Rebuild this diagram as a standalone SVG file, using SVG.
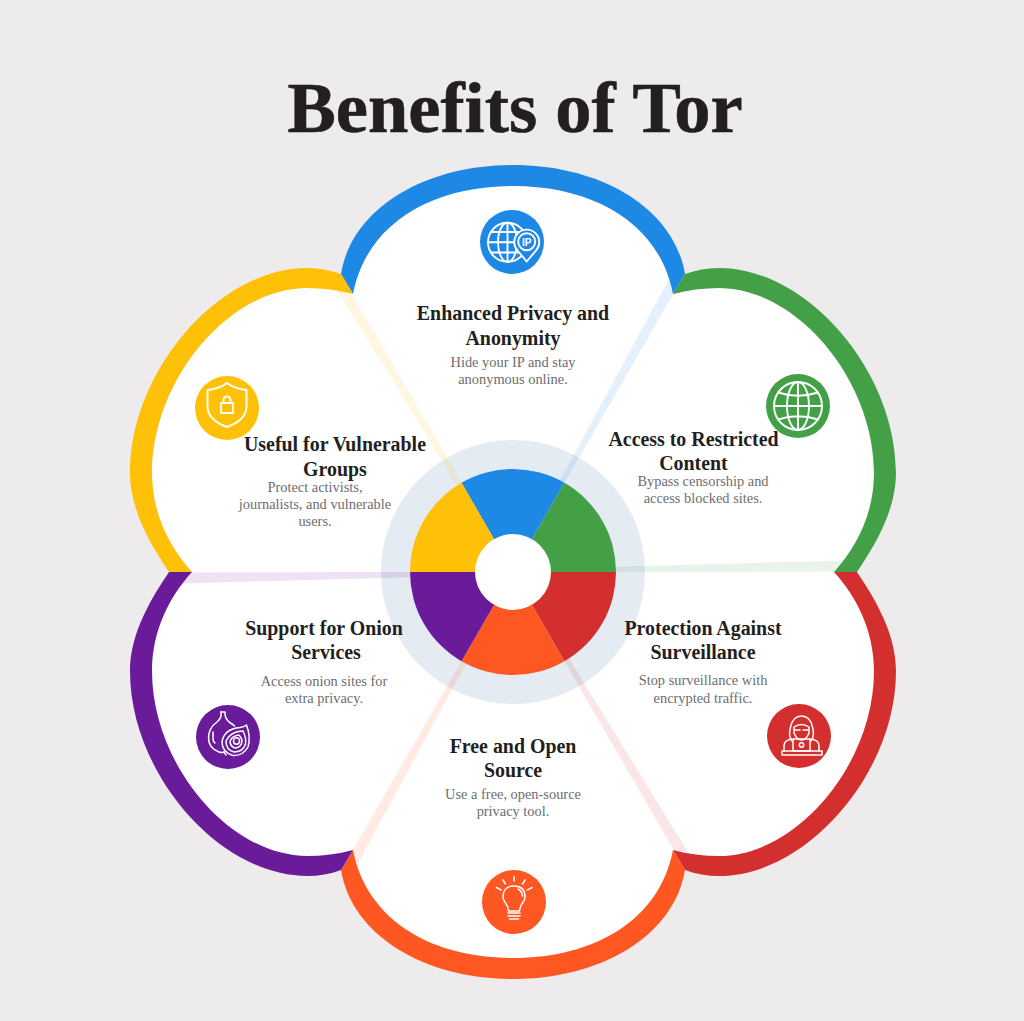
<svg xmlns="http://www.w3.org/2000/svg" xmlns:xlink="http://www.w3.org/1999/xlink" width="1024" height="1021" viewBox="0 0 1024 1021">
<style>
text{font-family:"Liberation Serif","DejaVu Serif",serif;text-anchor:middle}
.title{font-size:72.500px;font-weight:700;fill:#231f20;stroke:#231f20;stroke-width:.6}
.h{font-size:19.9px;font-weight:700;fill:#231f20}
.d{font-size:14.400px;fill:#6d6e71}
.ic{fill:none;stroke:#fff;stroke-width:1.900;stroke-linecap:round;stroke-linejoin:round}
.ic2{fill:none;stroke:#fff;stroke-width:1.500;stroke-linecap:round;stroke-linejoin:round}
.ray{fill-opacity:.12}
</style>
<defs>
<path id="white-top" d="M513 572L353 294C366 225 430 186 513 186C596 186 660 225 673 294Z"/>
<path id="crescent-top" d="M341 274C352 208 425 165 513 165C601 165 674 208 685 274L673 294C660 225 596 186 513 186C430 186 366 225 353 294Z"/>
<path id="white-side" d="M513 572L192 572C170 548 152 514 152 473C152 380 229 288 307 288C323 288 338 290 353 294Z"/>
<path id="crescent-side" d="M169 572C153 548 130 512 130 473C130 371 219 268 307 268C319 268 330 270 341 274L353 294C338 290 323 288 307 288C229 288 152 380 152 473C152 514 170 548 192 572Z"/>
<path id="ray" d="M673 294L669 279L559 482L565 482Z"/>
<path id="sector" d="M513 572L461.500 482.800A103 103 0 0 1 564.500 482.800Z"/>
</defs>
<rect width="1024" height="1021" fill="#edebec"/>
<text class="title" x="515" y="132">Benefits of Tor</text>
<g id="petal-backgrounds" fill="#fff">
<use xlink:href="#white-top"/>
<use xlink:href="#white-top" transform="matrix(1 0 0 -1 0 1144)"/>
<use xlink:href="#white-side"/>
<use xlink:href="#white-side" transform="matrix(-1 0 0 1 1026 0)"/>
<use xlink:href="#white-side" transform="matrix(1 0 0 -1 0 1144)"/>
<use xlink:href="#white-side" transform="matrix(-1 0 0 -1 1026 1144)"/>
</g>
<circle id="hub-ring" cx="513" cy="572" r="132" fill="#e5ebf2"/>
<g id="node-privacy" fill="#1e88e5">
<use xlink:href="#crescent-top"/><use xlink:href="#ray" class="ray"/><use xlink:href="#sector"/>
<circle cx="512" cy="242" r="32"/>
<g class="ic">
<circle cx="507.500" cy="242.300" r="19.500"/><ellipse cx="507.500" cy="242.300" rx="9.500" ry="19.500"/>
<path d="M507.500 222.800V261.800M488 242.300H527M491 232H524M491 252.500H524"/>
<path d="M526.700 261.500L517.500 250.500A12.500 12.500 0 1 1 536 250.500Z" fill="#1e88e5"/>
<circle cx="526.700" cy="241.700" r="8.500"/>
</g>
<text x="526.700" y="245.500" style="font-family:'Liberation Sans',sans-serif;font-size:10px;font-weight:700;fill:#fff">IP</text>
<text class="h" x="513" y="320">Enhanced Privacy and</text>
<text class="h" x="513" y="345">Anonymity</text>
<text class="d" x="513" y="367">Hide your IP and stay</text>
<text class="d" x="513" y="384">anonymous online.</text>
</g>
<g id="node-restricted" fill="#43a047">
<use xlink:href="#crescent-side" transform="matrix(-1 0 0 1 1026 0)"/>
<g transform="rotate(60 513 572)"><use xlink:href="#ray" class="ray"/><use xlink:href="#sector"/></g>
<circle cx="798" cy="406" r="32"/>
<g class="ic">
<circle cx="798" cy="406" r="24"/><ellipse cx="798" cy="406" rx="11" ry="24"/>
<path d="M798 382V430M774 406H822M778 392.500Q798 399 818 392.500M778 419.500Q798 413 818 419.500"/>
</g>
<text class="h" x="693.500" y="446">Access to Restricted</text>
<text class="h" x="693.500" y="470">Content</text>
<text class="d" x="703" y="486">Bypass censorship and</text>
<text class="d" x="703" y="503">access blocked sites.</text>
</g>
<g id="node-surveillance" fill="#d32f2f">
<use xlink:href="#crescent-side" transform="matrix(-1 0 0 -1 1026 1144)"/>
<g transform="rotate(120 513 572)"><use xlink:href="#ray" class="ray"/><use xlink:href="#sector"/></g>
<circle cx="799" cy="736" r="32"/>
<g class="ic2">
<path d="M792 741Q788 736 790.500 727Q793 716 801.500 716Q810 716 812.500 727Q815 736 811 741"/>
<path d="M794 727Q801.500 722 809 727V733Q806 740 801.500 740Q797 740 794 733Z"/>
<path d="M795 730H800M803 730H808"/>
<path d="M784 751V746Q784 740 792 739M819 751V746Q819 740 811 739"/>
<path d="M793 739H810V751H793Z"/>
<circle cx="801.500" cy="745" r="2.200"/>
<path d="M782 751H822V755H782Z"/>
</g>
<text class="h" x="703" y="635">Protection Against</text>
<text class="h" x="703" y="659">Surveillance</text>
<text class="d" x="703" y="685">Stop surveillance with</text>
<text class="d" x="703" y="703">encrypted traffic.</text>
</g>
<g id="node-open-source" fill="#ff5722">
<use xlink:href="#crescent-top" transform="matrix(1 0 0 -1 0 1144)"/>
<g transform="rotate(180 513 572)"><use xlink:href="#ray" class="ray"/><use xlink:href="#sector"/></g>
<circle cx="514" cy="902" r="32"/>
<g class="ic2">
<path d="M508.500 911Q508 906 505.500 903Q503 899.500 503 897Q503 886 514 886Q525 886 525 897Q525 899.500 522.500 903Q520 906 519.500 911Z"/>
<path d="M518 889Q522 891 522.500 896"/>
<path d="M508 913H520M508 916H520M509.500 919H518.500"/>
<path d="M514 876.500V881M503 880L505.500 884M525 880L522.500 884M496.500 887.500L501 890M532 887.500L527.500 890"/>
</g>
<text class="h" x="513" y="753">Free and Open</text>
<text class="h" x="513" y="777">Source</text>
<text class="d" x="513" y="799">Use a free, open-source</text>
<text class="d" x="513" y="816">privacy tool.</text>
</g>
<g id="node-onion" fill="#6a1b9a">
<use xlink:href="#crescent-side" transform="matrix(1 0 0 -1 0 1144)"/>
<g transform="rotate(240 513 572)"><use xlink:href="#ray" class="ray"/><use xlink:href="#sector"/></g>
<circle cx="228" cy="737" r="32"/>
<g class="ic2">
<path d="M221 712H225Q224.500 718 229 722Q233 724.500 234.500 726"/>
<path d="M221 712Q222 718 217 722Q208.500 728 208.500 738Q208.500 748 219 752Q222 753 224 752"/>
<path d="M213 732V738Q213 742 215 743"/>
<path d="M224 752L226 755"/>
<path d="M246.500 725Q244 727 240 727.500Q224 729 222 742Q222 752 233 755.500Q243 756 248 747Q251 737 246.500 725Z"/>
<path d="M243 731Q230 731.500 226 741Q226 750 234 752Q243 752 245.500 744Q246.500 738 243 731Z"/>
<path d="M239 735Q231 736 230 742Q231 747.500 236 748Q241.500 747 242 741Q242 738 239 735Z"/>
<ellipse cx="236.500" cy="741" rx="3" ry="3.200"/>
</g>
<text class="h" x="324" y="635">Support for Onion</text>
<text class="h" x="326" y="659">Services</text>
<text class="d" x="324" y="686">Access onion sites for</text>
<text class="d" x="324" y="703">extra privacy.</text>
</g>
<g id="node-vulnerable" fill="#ffc107">
<use xlink:href="#crescent-side"/>
<g transform="rotate(300 513 572)"><use xlink:href="#ray" class="ray"/><use xlink:href="#sector"/></g>
<circle cx="227" cy="408" r="32"/>
<g class="ic">
<path d="M227 383Q219 389 207.500 390V406Q207.500 420 227 427Q246.500 420 246.500 406V390Q235 389 227 383Z"/>
<path d="M221 403H233V413H221Z"/>
<path d="M223.500 403V400Q223.500 396.500 227 396.500Q230.500 396.500 230.500 400V403"/>
</g>
<text class="h" x="335" y="451">Useful for Vulnerable</text>
<text class="h" x="335" y="476">Groups</text>
<text class="d" x="315" y="492">Protect activists,</text>
<text class="d" x="315" y="509">journalists, and vulnerable</text>
<text class="d" x="315" y="526">users.</text>
</g>
<circle id="hub-center" cx="513" cy="572" r="38" fill="#fff"/>
</svg>
